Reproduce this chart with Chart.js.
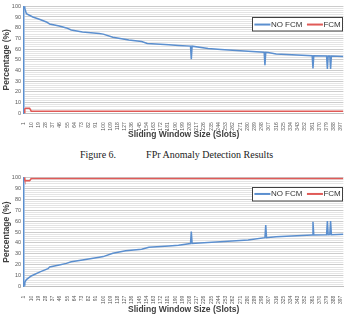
<!DOCTYPE html>
<html>
<head>
<meta charset="utf-8">
<script src="https://cdn.jsdelivr.net/npm/chart.js@4.4.1/dist/chart.umd.min.js"></script>
<style>
  body { margin: 0; background: #fff; width: 348px; height: 320px; position: relative; overflow: hidden; }
  canvas { position: absolute; left: 0; }
  #chartTop { top: 0; }
  #chartBottom { top: 170px; }
  .caption {
    position: absolute; top: 149px; left: 80px; white-space: nowrap;
    font-family: "Liberation Serif", "Times New Roman", serif; font-size: 10px; line-height: 12px; color: #222;
  }
  .caption span + span { margin-left: 30px; }
</style>
</head>
<body>
<canvas id="chartTop" width="348" height="141"></canvas>
<div class="caption"><span>Figure 6.</span><span>FPr Anomaly Detection Results</span></div>
<canvas id="chartBottom" width="348" height="146"></canvas>
<script>
// x axis labels shown on the category axis (every 9th slot)
const xTicks = [1, 10, 19, 28, 37, 46, 55, 64, 73, 82, 91, 100, 109, 118, 127, 136, 145, 154, 163, 172,
    181, 190, 199, 208, 217, 226, 235, 244, 253, 262, 271, 280, 289, 298, 307, 316, 325, 334, 343, 352,
    361, 370, 379, 388, 397];
const seriesNames = ['NO FCM', 'FCM'];

// [slot, percentage]
const topNoFcm = [[1, 100], [2, 98], [4, 93], [12, 90], [21, 87.6], [29, 85.4], [33, 83.5], [45, 81.5],
    [54, 79.8], [60, 77.8], [74, 76], [95, 74.5], [100, 74], [112, 71], [132, 68.5], [148, 67], [155, 65.3],
    [182, 64], [194, 63.4], [209, 62.8], [210, 50.5], [211, 62.7], [231, 60.6], [247, 59.6], [281, 58],
    [301, 57], [302, 45], [303, 57], [306, 56.8], [316, 55.4], [361, 53.8], [362, 42], [363, 53.8],
    [379, 53.6], [380, 41.5], [381, 53.6], [383, 53.5], [384, 41.5], [385, 53.5], [400, 53]];
const topFcm = [[1, 0.5], [2, 4], [3, 4.7], [8, 4.7], [9, 3.5], [10, 2], [400, 2]];

const bottomNoFcm = [[1, 1.5], [2, 4], [4, 6.5], [10, 9.8], [21, 13.5], [31, 16.5], [33, 18], [45, 19.8],
    [54, 21.3], [60, 22.8], [74, 24.4], [95, 26.9], [100, 27.5], [112, 30.5], [128, 32.8], [148, 34.2],
    [157, 36], [182, 37.2], [194, 37.8], [209, 39.5], [210, 50.3], [211, 39.6], [281, 42.7], [302, 44.8],
    [303, 56.4], [304, 44.8], [306, 45], [316, 45.7], [361, 47.2], [362, 59.4], [363, 47.2], [379, 47.5],
    [380, 60], [381, 47.5], [383, 47.6], [384, 60], [385, 47.6], [400, 47.9]];
const bottomFcm = [[1, 100], [2, 97.5], [3, 96.9], [8, 96.9], [9, 97.8], [10, 98.8], [400, 98.8]];

const blue = '#5b8fcf';
const red = '#e05a57';

// legend drawn as a framed box inside the plot, top right
const boxLegend = {
    id: 'boxLegend',
    afterDatasetsDraw(chart, args, opts) {
        const ctx = chart.ctx;
        const area = chart.chartArea;
        const w = 91, h = 13.5;
        const left = area.right - w, top = area.top + opts.offset;
        ctx.save();
        ctx.fillStyle = '#fff';
        ctx.fillRect(left, top, w, h);
        ctx.strokeStyle = '#404040';
        ctx.lineWidth = 1;
        ctx.strokeRect(Math.round(left) + 0.5, Math.round(top) + 0.5, w - 1, h);
        ctx.font = '8px "Liberation Sans", Arial, sans-serif';
        ctx.textBaseline = 'middle';
        let x = left + 2;
        const cy = top + h / 2 + 0.5;
        chart.data.datasets.forEach(ds => {
            ctx.strokeStyle = ds.borderColor;
            ctx.lineWidth = 2;
            ctx.beginPath();
            ctx.moveTo(x, cy);
            ctx.lineTo(x + 16, cy);
            ctx.stroke();
            x += 16.5;
            ctx.fillStyle = '#333';
            ctx.fillText(ds.label, x, cy);
            x += ctx.measureText(ds.label).width + 4.5;
        });
        ctx.restore();
    }
};

function makeChart(id, noFcm, fcm, plotTop, plotBottom, legendOffset) {
    const canvas = document.getElementById(id);
    const toPoints = arr => arr.map(p => ({ x: p[0], y: p[1] }));
    return new Chart(canvas.getContext('2d'), {
        type: 'line',
        data: {
            datasets: [
                { label: seriesNames[0], data: toPoints(noFcm), borderColor: blue, borderWidth: 1.5 },
                { label: seriesNames[1], data: toPoints(fcm), borderColor: red, borderWidth: 1.5 }
            ]
        },
        options: {
            responsive: false,
            animation: false,
            layout: { padding: { top: plotTop, right: 1, left: 0, bottom: 0 } },
            elements: { point: { radius: 0 }, line: { tension: 0 } },
            plugins: {
                legend: { display: false },
                tooltip: { enabled: false },
                boxLegend: { offset: legendOffset }
            },
            scales: {
                x: {
                    type: 'linear',
                    min: 1,
                    max: 400,
                    afterBuildTicks: scale => { scale.ticks = xTicks.map(v => ({ value: v })); },
                    afterFit: scale => { scale.height = canvas.height - plotBottom; },
                    ticks: {
                        autoSkip: false, maxRotation: 90, minRotation: 90, padding: 1,
                        font: { size: 5, family: 'Liberation Sans' }, color: '#595959'
                    },
                    grid: { display: false },
                    border: { color: '#bfbfbf' },
                    title: {
                        display: true, text: 'Sliding Window Size (Slots)', color: '#404040',
                        font: { size: 8.5, weight: 'bold', family: 'Liberation Sans' }, padding: { top: 1, bottom: 1 }
                    }
                },
                y: {
                    min: 0,
                    max: 100,
                    afterFit: scale => { scale.width = 24; },
                    ticks: {
                        stepSize: 2, padding: 3, autoSkip: false,
                        callback: v => (v % 10 === 0 ? v : ''),
                        font: { size: 5.5, family: 'Liberation Sans' }, color: '#595959'
                    },
                    grid: {
                        drawTicks: false,
                        color: c => (c.tick && c.tick.value % 10 === 0 ? '#cccccc' : '#e4e4e4')
                    },
                    border: { color: blue, width: 1.5 },
                    title: {
                        display: true, text: 'Percentage (%)', color: '#404040',
                        font: { size: 8.5, weight: 'bold', family: 'Liberation Sans' }, padding: { top: 2, bottom: 2 }
                    }
                }
            }
        },
        plugins: [boxLegend]
    });
}

makeChart('chartTop', topNoFcm, topFcm, 6, 113.3, 11);
makeChart('chartBottom', bottomNoFcm, bottomFcm, 7.3, 116.7, 9.4);
</script>
</body>
</html>
